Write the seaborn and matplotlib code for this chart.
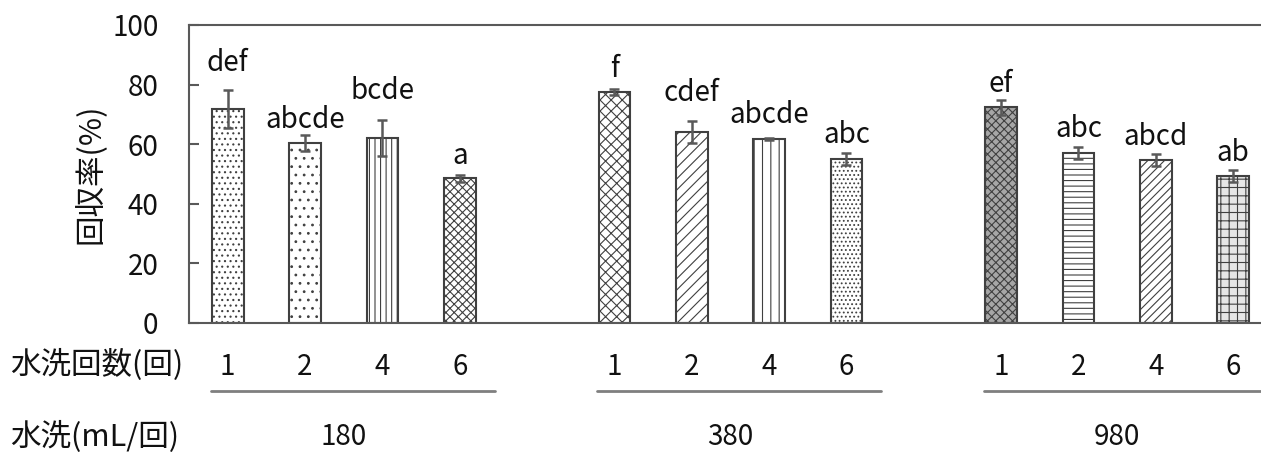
import numpy as np
import pandas as pd
import matplotlib
matplotlib.use("Agg")
import matplotlib.pyplot as plt
import seaborn as sns

# ---- data ----
volumes = ["180", "380", "980"]
wash_counts = ["1", "2", "4", "6"]
rates = [71.8, 60.4, 62.2, 48.6, 77.5, 64.2, 61.8, 54.9, 72.4, 57.0, 54.7, 49.2]
errors = [6.5, 2.7, 6.0, 1.2, 1.0, 3.7, 0.3, 2.0, 2.6, 2.1, 2.1, 2.0]
letters = ["def", "abcde", "bcde", "a", "f", "cdef", "abcde", "abc", "ef", "abc", "abcd", "ab"]
ylabel = "回収率(%)"
row1_label = "水洗回数(回)"
row2_label = "水洗(mL/回)"

# ---- styles ----
label_gap_px = [19, 7, 21, 11, 12, 20, 15, 10, 8, 10, 9, 9]
hatches = ["...", "..", "|||", "xxxx", "xxx", "///", "||", "....", "xxxx", "---", "////", "++"]
faces = ["white"] * 8 + ["#a6a6a6", "white", "white", "#e6e6e6"]
edge = "#404040"
FONT = ["Noto Sans CJK JP", "DejaVu Sans"]
FS = 20

sns.set_theme(style="white")
plt.rcParams["font.family"] = FONT
plt.rcParams["hatch.linewidth"] = 0.8

positions = []
for g in range(len(volumes)):
    for k in range(len(wash_counts)):
        positions.append(g * 5 + k)
df = pd.DataFrame({"pos": positions, "rate": rates})

fig = plt.figure(figsize=(12.61, 4.53), dpi=100)
ax = fig.add_axes([189 / 1261, 1 - 323 / 453, 1 - 189 / 1261, (323 - 25) / 453])

sns.barplot(data=df, x="pos", y="rate", native_scale=True, width=0.41,
            color="white", edgecolor=edge, linewidth=1.5, errorbar=None, ax=ax)

for p, h, fc in zip(ax.patches, hatches, faces):
    p.set_hatch(h)
    p.set_facecolor(fc)
    p.set_edgecolor(edge)

ax.errorbar(positions, rates, yerr=errors, fmt="none", ecolor="#595959",
            elinewidth=1.8, capsize=3.5, capthick=1.8, zorder=5)

for x, v, e, t, gap in zip(positions, rates, errors, letters, label_gap_px):
    ax.annotate(t, (x, v + e), xytext=(0, gap * 0.72), textcoords="offset points",
                ha="center", va="baseline", fontsize=FS, color="#111111")

ax.set_xlim(-0.5, 13.36)
ax.set_ylim(0, 100)
ax.set_yticks([0, 20, 40, 60, 80, 100])
ax.set_xticks(positions)
ax.set_xticklabels(wash_counts * len(volumes))
ax.tick_params(axis="x", length=0, pad=21, labelsize=FS, labelcolor="#111111")
ax.tick_params(axis="y", direction="in", length=7, width=1.5, color="#595959",
               pad=22, labelsize=FS, labelcolor="#111111", left=True)
ax.set_xlabel("")
ax.set_ylabel(ylabel, fontsize=22, color="#111111")
ax.yaxis.set_label_coords(-0.077, 0.5)

for s in ["left", "bottom", "top"]:
    ax.spines[s].set_visible(True)
    ax.spines[s].set_color("#595959")
    ax.spines[s].set_linewidth(1.5)
ax.spines["right"].set_visible(False)
ax.grid(False)

# group lines and labels below the axis
trans = ax.get_xaxis_transform()
for g, vol in enumerate(volumes):
    x0 = g * 5 - 0.22
    x1 = g * 5 + 3.45
    ax.plot([x0, x1], [-(391 - 323) / 298] * 2, transform=trans, color="#7f7f7f",
            lw=2, clip_on=False)
    ax.text(g * 5 + 1.5, -(437 - 323) / 298, vol, transform=trans, ha="center",
            va="center", fontsize=FS, color="#111111")

fig.text(10 / 1261, 1 - 365 / 453, row1_label, ha="left", va="center", fontsize=22,
         color="#111111")
fig.text(10 / 1261, 1 - 437 / 453, row2_label, ha="left", va="center", fontsize=22,
         color="#111111")

fig.savefig("out.png", dpi=100)
